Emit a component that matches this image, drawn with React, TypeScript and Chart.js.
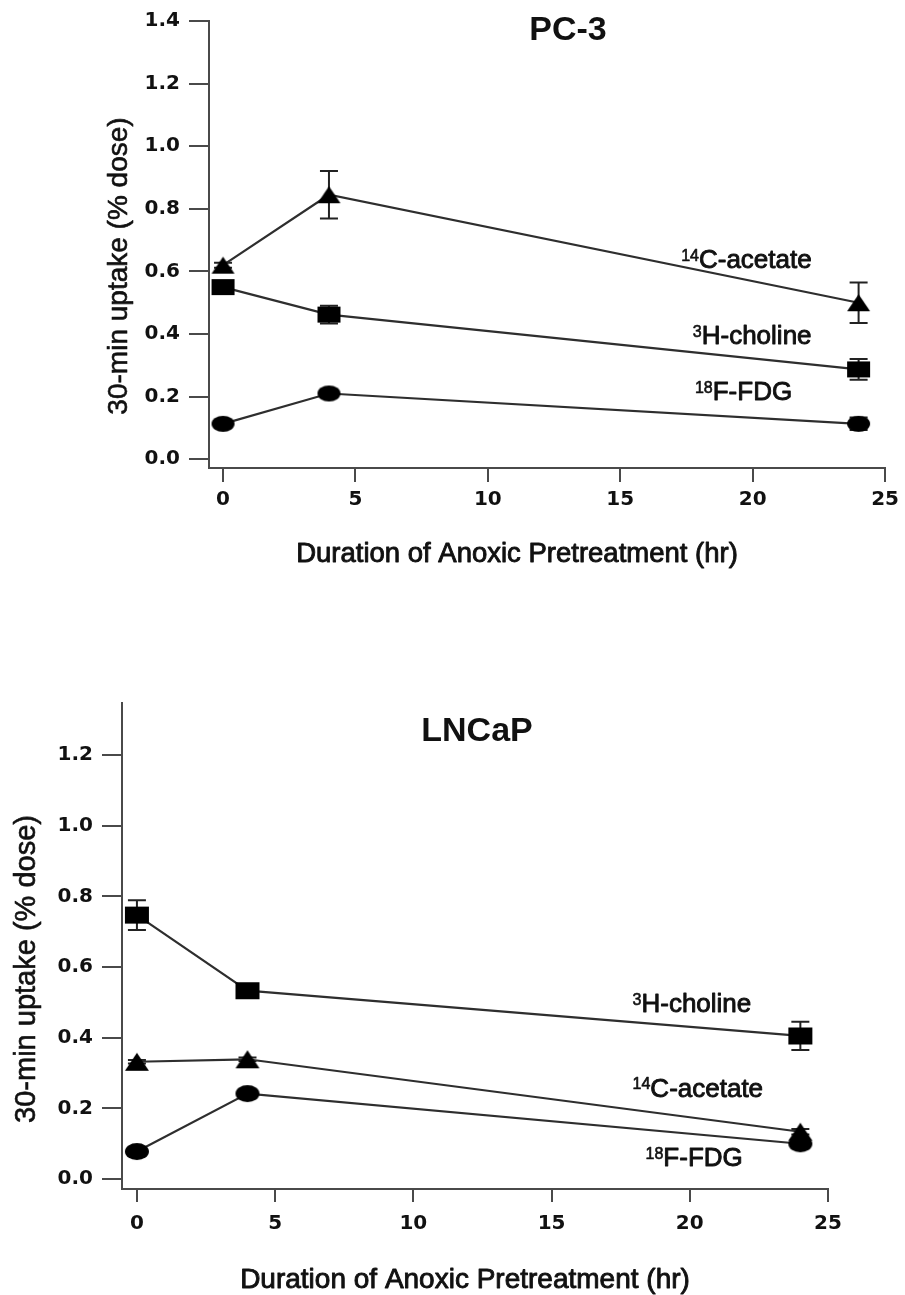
import React, { useEffect, useRef } from "react";
import { Chart, registerables } from "chart.js";

Chart.register(...registerables);

// ---------- data ----------
const hours = [0, 4, 24];

// PC-3 (30-min uptake, % dose)
const pc3Acetate = [0.62, 0.845, 0.5];
const pc3AcetateErr = [0.008, 0.076, 0.065];
const pc3Choline = [0.55, 0.462, 0.287];
const pc3CholineErr = [0.01, 0.028, 0.033];
const pc3Fdg = [0.113, 0.21, 0.113];
const pc3FdgErr = [0.006, 0.01, 0.02];

// LNCaP (30-min uptake, % dose)
const lnCholine = [0.747, 0.533, 0.405];
const lnCholineErr = [0.042, 0.01, 0.04];
const lnAcetate = [0.332, 0.339, 0.134];
const lnAcetateErr = [0.005, 0.005, 0.008];
const lnFdg = [0.078, 0.242, 0.1];
const lnFdgErr = [0.005, 0.008, 0.008];

const xTitleText = "Duration of Anoxic Pretreatment (hr)";
const yTitleText = "30-min uptake (% dose)";

// ---------- helpers ----------
type Marker = "triangle" | "square" | "ellipse";

function makeMarker(kind: Marker, w: number, h: number): HTMLCanvasElement {
  const c = document.createElement("canvas");
  c.width = w + 2;
  c.height = h + 2;
  const g = c.getContext("2d")!;
  g.fillStyle = "#000";
  g.beginPath();
  if (kind === "triangle") {
    g.moveTo(1, h + 1);
    g.lineTo(w / 2 + 1, 1);
    g.lineTo(w + 1, h + 1);
    g.closePath();
  } else if (kind === "square") {
    g.rect(1, 1, w, h);
  } else {
    g.ellipse(w / 2 + 1, h / 2 + 1, w / 2, h / 2, 0, 0, Math.PI * 2);
  }
  g.fill();
  return c;
}

const FONT = '"Liberation Sans", Arial, Helvetica, sans-serif';

type SeriesCfg = {
  name: string;
  sup: string;
  text: string;
  values: number[];
  err: number[];
  marker: Marker;
  lx: number;
  ly: number;
};

type PanelCfg = {
  key: string;
  title: string;
  top: number;
  height: number;
  area: { left: number; right: number; top: number; bottom: number };
  yMin: number;
  yMax: number;
  xMin: number;
  xMax: number;
  titleX: number;
  titleBase: number;
  xTitleX: number;
  xTitleBase: number;
  xTitleSize: number;
  yTitleX: number;
  yTitleY: number;
  yTitleSize: number;
  xTickLen: number;
  xTickPad: number;
  markerW: number;
  markerH: number;
  labelSize: number;
  series: SeriesCfg[];
};

const panels: PanelCfg[] = [
  {
    key: "pc3",
    title: "PC-3",
    top: 0,
    height: 600,
    area: { left: 209, right: 888, top: 16, bottom: 468 },
    yMin: -0.028,
    yMax: 1.4,
    xMin: -0.53,
    xMax: 25,
    titleX: 568,
    titleBase: 40,
    xTitleX: 517,
    xTitleBase: 562,
    xTitleSize: 27.5,
    yTitleX: 127,
    yTitleY: 266,
    yTitleSize: 28,
    xTickLen: 14,
    xTickPad: 6,
    markerW: 23,
    markerH: 16,
    labelSize: 26,
    series: [
      { name: "14C-acetate", sup: "14", text: "C-acetate", values: pc3Acetate, err: pc3AcetateErr, marker: "triangle", lx: 17.3, ly: 0.641 },
      { name: "3H-choline", sup: "3", text: "H-choline", values: pc3Choline, err: pc3CholineErr, marker: "square", lx: 17.74, ly: 0.398 },
      { name: "18F-FDG", sup: "18", text: "F-FDG", values: pc3Fdg, err: pc3FdgErr, marker: "ellipse", lx: 17.82, ly: 0.218 },
    ],
  },
  {
    key: "lncap",
    title: "LNCaP",
    top: 620,
    height: 675,
    area: { left: 122, right: 828, top: 83, bottom: 569 },
    yMin: -0.028,
    yMax: 1.347,
    xMin: -0.54,
    xMax: 25,
    titleX: 477,
    titleBase: 121,
    xTitleX: 465,
    xTitleBase: 668,
    xTitleSize: 28,
    yTitleX: 35,
    yTitleY: 349,
    yTitleSize: 29,
    xTickLen: 13,
    xTickPad: 10,
    markerW: 24,
    markerH: 17,
    labelSize: 26,
    series: [
      { name: "3H-choline", sup: "3", text: "H-choline", values: lnCholine, err: lnCholineErr, marker: "square", lx: 17.93, ly: 0.5 },
      { name: "14C-acetate", sup: "14", text: "C-acetate", values: lnAcetate, err: lnAcetateErr, marker: "triangle", lx: 17.93, ly: 0.26 },
      { name: "18F-FDG", sup: "18", text: "F-FDG", values: lnFdg, err: lnFdgErr, marker: "ellipse", lx: 18.4, ly: 0.063 },
    ],
  },
];

function heavyText(ctx: CanvasRenderingContext2D, t: string, x: number, y: number, w: number) {
  ctx.fillText(t, x, y);
  ctx.lineWidth = w;
  ctx.strokeText(t, x, y);
}

function makePlugin(p: PanelCfg) {
  return {
    id: "annot_" + p.key,
    beforeDatasetsDraw(chart: any) {
      const { ctx } = chart;
      const x = chart.scales.x;
      const y = chart.scales.y;
      const cap = 9;
      ctx.save();
      ctx.strokeStyle = "#222";
      ctx.lineWidth = 2;
      p.series.forEach((s) => {
        hours.forEach((h, i) => {
          const e = s.err[i];
          if (!e) return;
          const px = x.getPixelForValue(h);
          const y1 = y.getPixelForValue(s.values[i] + e);
          const y2 = y.getPixelForValue(s.values[i] - e);
          ctx.beginPath();
          ctx.moveTo(px, y1);
          ctx.lineTo(px, y2);
          ctx.moveTo(px - cap, y1);
          ctx.lineTo(px + cap, y1);
          ctx.moveTo(px - cap, y2);
          ctx.lineTo(px + cap, y2);
          ctx.stroke();
        });
      });
      ctx.restore();
    },
    afterDraw(chart: any) {
      const { ctx } = chart;
      const x = chart.scales.x;
      const y = chart.scales.y;
      ctx.save();
      ctx.fillStyle = "#111";
      ctx.strokeStyle = "#111";
      ctx.lineJoin = "round";
      ctx.textBaseline = "alphabetic";

      // panel title
      ctx.font = `bold 34px ${FONT}`;
      ctx.textAlign = "center";
      ctx.fillText(p.title, p.titleX, p.titleBase);

      // x axis title
      ctx.font = `${p.xTitleSize}px ${FONT}`;
      ctx.textAlign = "center";
      heavyText(ctx, xTitleText, p.xTitleX, p.xTitleBase, 0.9);

      // y axis title
      ctx.save();
      ctx.translate(p.yTitleX, p.yTitleY);
      ctx.rotate(-Math.PI / 2);
      ctx.font = `${p.yTitleSize}px ${FONT}`;
      ctx.textAlign = "center";
      heavyText(ctx, yTitleText, 0, 0, 0.6);
      ctx.restore();

      // series labels with superscripts
      const size = p.labelSize;
      const supSize = 16;
      p.series.forEach((s) => {
        const lx = x.getPixelForValue(s.lx);
        const cy = y.getPixelForValue(s.ly);
        const base = cy + (0.716 * size) / 2;
        ctx.textAlign = "left";
        ctx.font = `${supSize}px ${FONT}`;
        heavyText(ctx, s.sup, lx, base - 0.716 * size + 0.716 * supSize, 0.6);
        const w = ctx.measureText(s.sup).width;
        ctx.font = `${size}px ${FONT}`;
        heavyText(ctx, s.text, lx + w, base, 0.9);
      });
      ctx.restore();
    },
  };
}

function Panel({ p }: { p: PanelCfg }) {
  const ref = useRef<HTMLCanvasElement>(null);
  useEffect(() => {
    if (!ref.current) return;
    const markers: Record<Marker, HTMLCanvasElement> = {
      triangle: makeMarker("triangle", p.markerW, p.markerH + 1),
      square: makeMarker("square", p.markerW, p.markerH),
      ellipse: makeMarker("ellipse", p.markerW, p.markerH),
    };
    const axisColor = "#4a4a4a";
    const tickFont = { family: '"DejaVu Sans", Verdana, sans-serif', weight: "bold" as const, size: 20 };
    const chart = new Chart(ref.current, {
      type: "line",
      data: {
        datasets: p.series.map((s) => ({
          label: s.name,
          data: hours.map((h, i) => ({ x: h, y: s.values[i] })),
          borderColor: "#2e2e2e",
          borderWidth: 2.2,
          backgroundColor: "#000",
          pointStyle: markers[s.marker] as any,
          pointRadius: 12,
          pointHoverRadius: 12,
          tension: 0,
          fill: false,
          clip: false as any,
        })),
      },
      options: {
        animation: false,
        responsive: false,
        events: [],
        layout: {
          padding: {
            left: 0,
            right: 905 - p.area.right,
            top: p.area.top,
            bottom: 0,
          },
        },
        plugins: {
          legend: { display: false },
          tooltip: { enabled: false },
          title: { display: false },
        },
        scales: {
          x: {
            type: "linear",
            min: p.xMin,
            max: p.xMax,
            afterFit: (s: any) => {
              s.height = p.height - p.area.bottom;
            },
            border: { display: true, color: axisColor, width: 2 },
            grid: {
              display: true,
              drawOnChartArea: false,
              drawTicks: true,
              tickLength: p.xTickLen,
              color: axisColor,
              lineWidth: 2,
            },
            ticks: {
              stepSize: 5,
              includeBounds: false,
              autoSkip: false,
              maxRotation: 0,
              padding: p.xTickPad,
              color: "#111",
              font: tickFont,
              callback: (v: any) => String(v),
            },
          },
          y: {
            type: "linear",
            min: p.yMin,
            max: p.yMax,
            afterFit: (s: any) => {
              s.width = p.area.left;
            },
            border: { display: true, color: axisColor, width: 2 },
            grid: {
              display: true,
              drawOnChartArea: false,
              drawTicks: true,
              tickLength: 20,
              color: axisColor,
              lineWidth: 2,
            },
            ticks: {
              stepSize: 0.2,
              includeBounds: false,
              autoSkip: false,
              padding: 9,
              color: "#111",
              font: tickFont,
              callback: (v: any) => Number(v).toFixed(1),
            },
          },
        },
      },
      plugins: [makePlugin(p)],
    });
    return () => chart.destroy();
  }, [p]);
  return (
    <div style={{ position: "absolute", left: 0, top: p.top, width: 905, height: p.height }}>
      <canvas ref={ref} width={905} height={p.height} style={{ display: "block", width: 905, height: p.height }} />
    </div>
  );
}

export default function App() {
  return (
    <div style={{ position: "absolute", left: 0, top: 0, width: 905, height: 1295, background: "#fff" }}>
      {panels.map((p) => (
        <Panel key={p.key} p={p} />
      ))}
    </div>
  );
}
